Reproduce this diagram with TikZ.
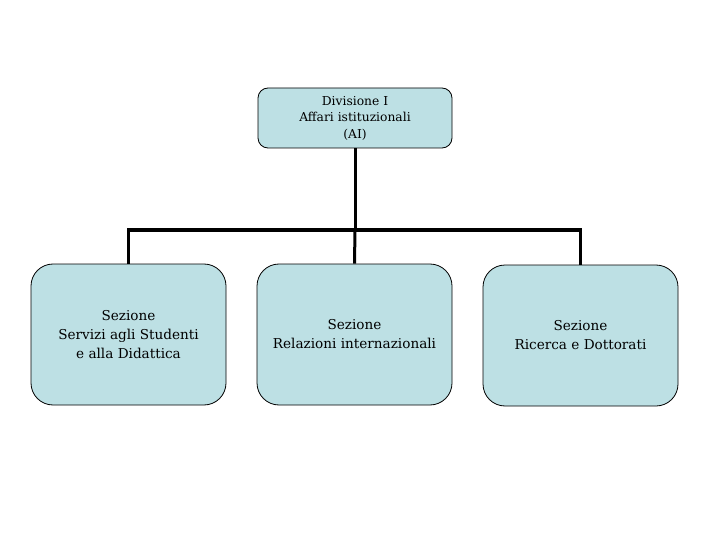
\documentclass[tikz,border=0pt]{standalone}
\usepackage{fontspec}
\setmainfont{DejaVu Serif}
\definecolor{boxfill}{RGB}{189,224,228}
\begin{document}
\begin{tikzpicture}[x=1pt,y=-1pt,
  topbox/.style={draw=black,line width=0.8pt,fill=boxfill,rounded corners=10pt,minimum width=194pt,minimum height=60pt,inner sep=0pt,align=center,font=\fontsize{12.3}{16.5}\selectfont},
  secbox/.style={draw=black,line width=0.8pt,fill=boxfill,rounded corners=22pt,minimum width=195pt,minimum height=141pt,inner sep=0pt,align=center,font=\fontsize{13.6}{19}\selectfont},
  conn/.style={line width=3pt}]
\useasboundingbox (0,0) rectangle (720,540);
\node[topbox] (top) at (355,118) {Divisione I\\Affari istituzionali\\(AI)};
\node[secbox] (s1) at (128.5,334.5) {Sezione\\Servizi agli Studenti\\e alla Didattica};
\node[secbox] (s2) at (354.5,334.5) {Sezione\\Relazioni internazionali};
\node[secbox] (s3) at (580.5,335.5) {Sezione\\Ricerca e Dottorati};
\coordinate (j) at (355,230);
\draw[conn] (top.south) -- (j);
\draw[conn] (j) -- (s2.north);
\draw[conn] (j) -| (s1.north);
\draw[conn] (j) -| (s3.north);
\end{tikzpicture}
\end{document}
